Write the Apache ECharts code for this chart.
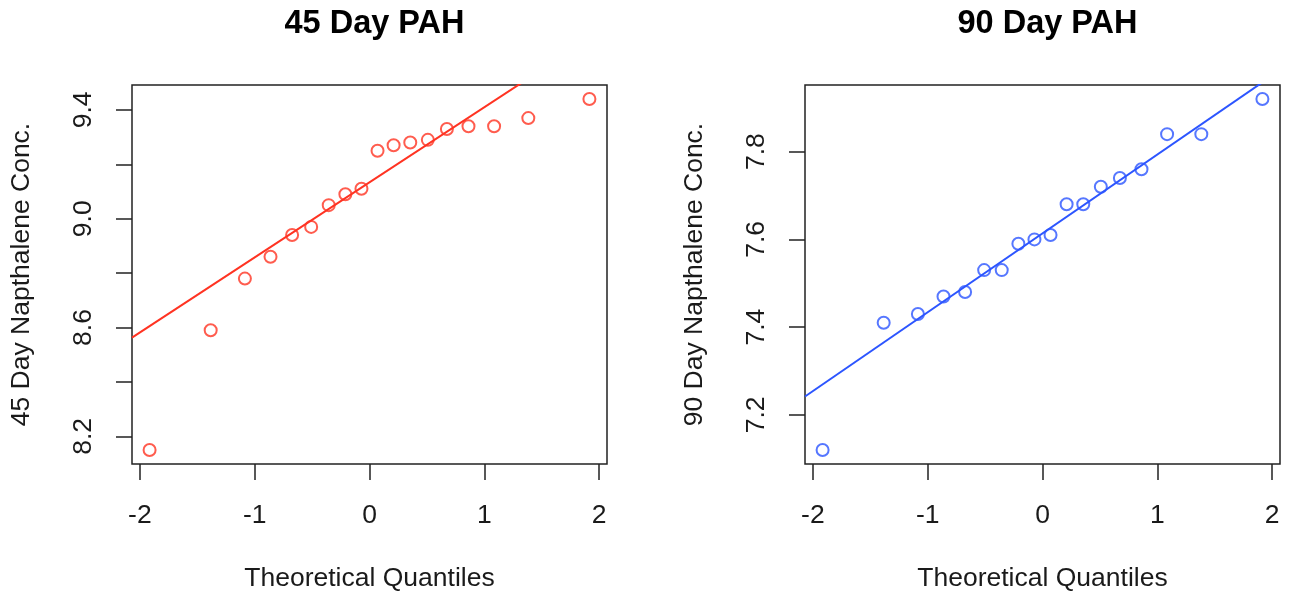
<!DOCTYPE html>
<html>
<head>
<meta charset="utf-8">
<title>PAH Q-Q plots</title>
<script src="https://cdn.jsdelivr.net/npm/echarts@6/dist/echarts.min.js"></script>
<style>
  html, body { margin: 0; padding: 0; background: #fff; }
  #main { width: 1291px; height: 592px; }
</style>
</head>
<body>
<div id="main"></div>
<script>
// theoretical normal quantiles (x) and sample values (y)
var quantiles = [-1.915, -1.383, -1.085, -0.862, -0.674, -0.508, -0.355, -0.210, -0.070,
                  0.070,  0.210,  0.355,  0.508,  0.674,  0.862,  1.085,  1.383,  1.915];
var conc45 = [8.15, 8.59, 8.78, 8.86, 8.94, 8.97, 9.05, 9.09, 9.11,
              9.25, 9.27, 9.28, 9.29, 9.33, 9.34, 9.34, 9.37, 9.44];
var conc90 = [7.12, 7.41, 7.43, 7.47, 7.48, 7.53, 7.53, 7.59, 7.60,
              7.61, 7.68, 7.68, 7.72, 7.74, 7.76, 7.84, 7.84, 7.92];

var xTicks = [-2, -1, 0, 1, 2];
var yTicks45 = [8.2, 8.4, 8.6, 8.8, 9.0, 9.2, 9.4];
var yLabels45 = [8.2, 8.6, 9.0, 9.4];
var yTicks90 = [7.2, 7.4, 7.6, 7.8];
var yLabels90 = [7.2, 7.4, 7.6, 7.8];

var titles = ['45 Day PAH', '90 Day PAH'];
var yNames = ['45 Day Napthalene Conc.', '90 Day Napthalene Conc.'];
var xName = 'Theoretical Quantiles';

var FONT = 'Liberation Sans';
var INK = '#1a1a1a';

// R-style range: data range padded by 4% on each side
function padRange(arr) {
    var lo = Math.min.apply(null, arr), hi = Math.max.apply(null, arr);
    var d = (hi - lo) * 0.04;
    return [lo - d, hi + d];
}
// quantile type 7 (R default)
function quant(arr, p) {
    var s = arr.slice().sort(function(a, b) { return a - b; });
    var h = (s.length - 1) * p, lo = Math.floor(h);
    return s[lo] + (h - lo) * ((s[lo + 1] !== undefined ? s[lo + 1] : s[lo]) - s[lo]);
}
// qqline: passes through first and third quartiles
function qqline(y, xr) {
    var z = 0.6744898;
    var q1 = quant(y, 0.25), q3 = quant(y, 0.75);
    var slope = (q3 - q1) / (2 * z);
    var icpt = q1 + z * slope;
    return [[xr[0], icpt + slope * xr[0]], [xr[1], icpt + slope * xr[1]]];
}
function pairs(x, y) {
    return x.map(function(v, i) { return [v, y[i]]; });
}

var xr = padRange(quantiles);
var panels = [
    { y: conc45, ticks: yTicks45, labels: yLabels45, color: '#ff3322', left: 132 },
    { y: conc90, ticks: yTicks90, labels: yLabels90, color: '#2c55ff', left: 805 }
];
var gridW = 475, gridTop = 85, gridH = 379;

var option = {
    animation: false,
    backgroundColor: '#fff',
    title: [], grid: [], xAxis: [], yAxis: [], series: []
};

panels.forEach(function(p, i) {
    var yr = padRange(p.y);
    option.title.push({
        text: titles[i],
        left: p.left + gridW / 2,
        top: 3,
        textAlign: 'center',
        textStyle: { fontFamily: FONT, fontSize: 32.5, fontWeight: 'bold', color: '#000' }
    });
    option.grid.push({
        left: p.left, top: gridTop, width: gridW, height: gridH,
        containLabel: false, outerBoundsMode: 'none',
        show: true, borderColor: '#222', borderWidth: 1.5, backgroundColor: 'transparent'
    });
    option.xAxis.push({
        type: 'value', gridIndex: i, min: xr[0], max: xr[1],
        name: xName, nameLocation: 'middle', nameGap: 101,
        nameTextStyle: { fontFamily: FONT, fontSize: 26.5, color: INK },
        axisLine: { show: false, onZero: false },
        splitLine: { show: false },
        axisTick: { customValues: xTicks, length: 16, lineStyle: { color: '#222', width: 1.5 } },
        axisLabel: {
            customValues: xTicks, margin: 38,
            fontFamily: FONT, fontSize: 26.5, color: INK,
            formatter: function(v) { return String(Math.round(v)); }
        }
    });
    option.yAxis.push({
        type: 'value', gridIndex: i, min: yr[0], max: yr[1],
        name: yNames[i], nameLocation: 'middle', nameGap: 97,
        nameTextStyle: { fontFamily: FONT, fontSize: 26.5, color: INK },
        axisLine: { show: false, onZero: false },
        splitLine: { show: false },
        axisTick: { customValues: p.ticks, length: 16, lineStyle: { color: '#222', width: 1.5 } },
        axisLabel: {
            customValues: p.labels, margin: 35, rotate: 90,
            fontFamily: FONT, fontSize: 26.5, color: INK,
            formatter: function(v) { return v.toFixed(1); }
        }
    });
    option.series.push({
        type: 'line', xAxisIndex: i, yAxisIndex: i,
        data: qqline(p.y, xr),
        showSymbol: false, clip: true, silent: true,
        lineStyle: { color: p.color, width: 2 }
    });
    option.series.push({
        type: 'scatter', xAxisIndex: i, yAxisIndex: i,
        data: pairs(quantiles, p.y),
        symbol: 'circle', symbolSize: 12,
        itemStyle: { color: 'transparent', borderColor: p.color, borderWidth: 2 }
    });
});

var myChart = echarts.init(document.getElementById('main'));
myChart.setOption(option);
</script>
</body>
</html>
